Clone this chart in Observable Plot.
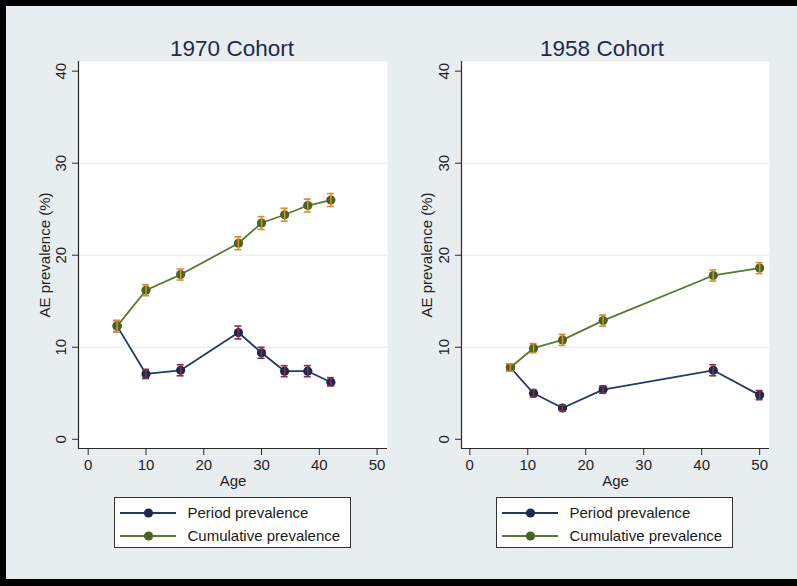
<!DOCTYPE html>
<html>
<head>
<meta charset="utf-8">
<script src="https://cdn.jsdelivr.net/npm/d3@7"></script>
<script src="https://cdn.jsdelivr.net/npm/@observablehq/plot@0.6"></script>
<style>
  html, body { margin: 0; padding: 0; }
  body { width: 797px; height: 586px; background: #000; position: relative; overflow: hidden;
         font-family: 'Liberation Sans', Arial, sans-serif; }
  #bg { position: absolute; left: 6px; top: 6px; width: 791px; height: 573px; background: #e8edf0; }
  .panel { position: absolute; top: 0; }
  .title { position: absolute; font-size: 22.5px; color: #1e2a4c; transform: translate(-50%, -50%); white-space: nowrap; }
  .legend { position: absolute; box-sizing: border-box; background: #fff; border: 1px solid #333; }
  .legend .row { position: absolute; left: 0; height: 20px; width: 100%; }
  .legend svg { position: absolute; left: 0; top: 0; }
  .legend span { position: absolute; font-size: 15px; color: #1a1a1a; line-height: 20px; top: 0; white-space: nowrap; }
</style>
</head>
<body>
<div id="bg"></div>
<div id="left" class="panel" style="left:0px"></div>
<div id="right" class="panel" style="left:397px"></div>
<div class="title" style="left:232px; top:48.5px">1970 Cohort</div>
<div class="title" style="left:602px; top:48.5px">1958 Cohort</div>
<div id="legL" class="legend" style="left:114px; top:497px; width:237px; height:51px"></div>
<div id="legR" class="legend" style="left:496px; top:497px; width:237px; height:51px"></div>
<script>
// ---- Data ----
const ages1970 = [5, 10, 16, 26, 30, 34, 38, 42];
const period1970 = [12.3, 7.1, 7.5, 11.6, 9.4, 7.4, 7.4, 6.2];
const period1970Lo = [11.7, 6.6, 6.9, 10.9, 8.8, 6.8, 6.8, 5.8];
const period1970Hi = [12.9, 7.6, 8.1, 12.3, 10.0, 8.0, 8.0, 6.7];
const cum1970 = [12.3, 16.2, 17.9, 21.3, 23.5, 24.4, 25.4, 26.0];
const cum1970Lo = [11.7, 15.6, 17.3, 20.6, 22.8, 23.7, 24.7, 25.3];
const cum1970Hi = [12.9, 16.8, 18.5, 22.0, 24.2, 25.1, 26.1, 26.7];

const ages1958 = [7, 11, 16, 23, 42, 50];
const period1958 = [7.8, 5.0, 3.4, 5.4, 7.5, 4.8];
const period1958Lo = [7.4, 4.6, 3.1, 5.0, 6.9, 4.3];
const period1958Hi = [8.2, 5.4, 3.7, 5.8, 8.1, 5.3];
const cum1958 = [7.8, 9.9, 10.8, 12.9, 17.8, 18.6];
const cum1958Lo = [7.4, 9.4, 10.2, 12.3, 17.2, 18.0];
const cum1958Hi = [8.2, 10.4, 11.4, 13.5, 18.4, 19.2];

const xTicks = [0, 10, 20, 30, 40, 50];
const yTicks = [0, 10, 20, 30, 40];
const gridTicks = [10, 20, 30];
const seriesNames = ["Period prevalence", "Cumulative prevalence"];

// ---- Styles ----
const C = {
  periodLine: "#23396a", periodDot: "#1b2a52", periodErr: "#8c2f3c",
  cumLine: "#58792f", cumDot: "#456520", cumErr: "#dc8a2c",
  axis: "#2a2a2a", text: "#1f1f1f", grid: "#e4e9ef"
};

function rows(ages, v, lo, hi) {
  return ages.map((a, i) => ({age: a, v: v[i], lo: lo[i], hi: hi[i]}));
}

function panel({ages, p, pLo, pHi, c, cLo, cHi, xDomain, margins, width, ylabDx}) {
  const P = rows(ages, p, pLo, pHi);
  const Cu = rows(ages, c, cLo, cHi);
  const capHalf = 3.5 * (xDomain[1] - xDomain[0]) / (width - margins.left - margins.right);
  const series = (d, line, dot, err) => [
    Plot.line(d, {x: "age", y: "v", stroke: line, strokeWidth: 1.8}),
    Plot.dot(d, {x: "age", y: "v", r: 4.6, fill: dot, stroke: "none"}),
    Plot.ruleX(d, {x: "age", y1: "lo", y2: "hi", stroke: err, strokeWidth: 1.6}),
    Plot.ruleY(d, {y: "lo", x1: r => r.age - capHalf, x2: r => r.age + capHalf, stroke: err, strokeWidth: 1.6}),
    Plot.ruleY(d, {y: "hi", x1: r => r.age - capHalf, x2: r => r.age + capHalf, stroke: err, strokeWidth: 1.6})
  ];
  return Plot.plot({
    width, height: 500,
    marginLeft: margins.left, marginRight: margins.right, marginTop: 61, marginBottom: 52,
    x: {domain: xDomain},
    y: {domain: [-1.0, 41.05]},
    style: {background: "transparent", fontFamily: "'Liberation Sans', Arial, sans-serif", fontSize: "15px", overflow: "visible"},
    marks: [
      Plot.frame({fill: "white", stroke: "none"}),
      Plot.gridY(gridTicks, {stroke: C.grid, strokeOpacity: 1, strokeWidth: 1}),
      Plot.ruleX([xDomain[0]], {stroke: C.axis, strokeWidth: 1.2}),
      Plot.ruleY([-1.0], {stroke: C.axis, strokeWidth: 1.2}),
      Plot.axisX({ticks: xTicks, tickSize: 7, tickPadding: 4, stroke: C.axis, fill: C.text, fontSize: 15, label: null}),
      Plot.axisY({ticks: yTicks, tickSize: 6, tickFormat: () => "", stroke: C.axis, label: null}),
      Plot.text(yTicks, {y: d => d, text: d => String(d), frameAnchor: "left", textAnchor: "middle", lineAnchor: "middle", dx: -17, rotate: -90, fontSize: 15, fill: C.text}),
      Plot.text(["Age"], {frameAnchor: "bottom", lineAnchor: "middle", dy: 33, fontSize: 15, fill: C.text}),
      Plot.text(["AE prevalence (%)"], {frameAnchor: "left", textAnchor: "middle", lineAnchor: "middle", dx: ylabDx, rotate: -90, fontSize: 15, fill: C.text}),
      ...series(P, C.periodLine, C.periodDot, C.periodErr),
      ...series(Cu, C.cumLine, C.cumDot, C.cumErr)
    ]
  });
}

document.getElementById("left").append(panel({
  ages: ages1970, p: period1970, pLo: period1970Lo, pHi: period1970Hi,
  c: cum1970, cLo: cum1970Lo, cHi: cum1970Hi,
  xDomain: [-1.68, 51.8], margins: {left: 78, right: 10}, width: 397, ylabDx: -33
}));
document.getElementById("right").append(panel({
  ages: ages1958, p: period1958, pLo: period1958Lo, pHi: period1958Hi,
  c: cum1958, cLo: cum1958Lo, cHi: cum1958Hi,
  xDomain: [-1.43, 51.7], margins: {left: 64, right: 28}, width: 400, ylabDx: -34
}));

// ---- Legends ----
function legend(el, lineX1, lineX2, dotX, textX) {
  const cols = [[C.periodLine, C.periodDot], [C.cumLine, C.cumDot]];
  const rowsY = [14.7 - 10, 38.3 - 10];
  seriesNames.forEach((name, i) => {
    const row = document.createElement("div");
    row.className = "row";
    row.style.top = rowsY[i] + "px";
    row.innerHTML = `<svg width="80" height="20"><line x1="${lineX1}" x2="${lineX2}" y1="10" y2="10" stroke="${cols[i][0]}" stroke-width="1.8"/><circle cx="${dotX}" cy="10" r="4.6" fill="${cols[i][1]}"/></svg><span style="left:${textX}px">${name}</span>`;
    el.append(row);
  });
}
legend(document.getElementById("legL"), 5, 61, 33.5, 72.5);
legend(document.getElementById("legR"), 5, 61, 33.5, 72.5);
</script>
</body>
</html>
